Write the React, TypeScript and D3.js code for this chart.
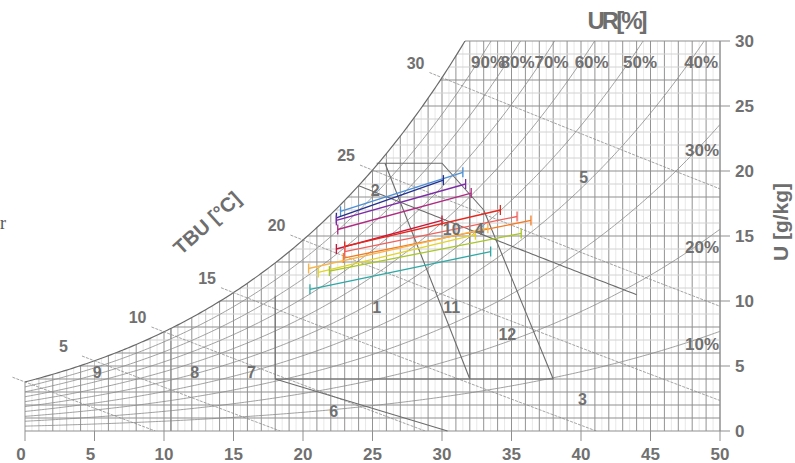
import React from "react";
import * as d3 from "d3";

// axes
const tempTicks = [0, 5, 10, 15, 20, 25, 30, 35, 40, 45, 50];
const humidityTicks = [0, 5, 10, 15, 20, 25, 30];

// psychrometric families
const rhLevels = [0.1, 0.2, 0.3, 0.4, 0.5, 0.6, 0.7, 0.8, 0.9];
const rhTopLabels = [0.9, 0.8, 0.7, 0.6, 0.5, 0.4];
const rhSideLabels = [0.3, 0.2, 0.1];
const wetBulbLevels = [0, 5, 10, 15, 20, 25, 30];
const wetBulbLabels = [5, 10, 15, 20, 25, 30];
const gridMajorU = [0, 1, 2, 3, 4, 5, 6, 8, 10, 13, 15, 18, 20, 25, 27, 30];
const gridMinorU = [7, 9, 11, 12, 14, 16, 17, 19, 21, 22, 23, 24, 26, 28, 29];
const gridExtraT = [10.5];

// monthly lines: (t min, u at t min) -> (t max, u at t max)
const seriesColors = [
  "#4b8fd6", "#23308f", "#7d2aa6", "#b02a83", "#c8173a", "#e8261c",
  "#f0605a", "#f47a20", "#f8b448", "#e3d42a", "#a9c62a", "#2fa9a6",
];
const tLow = [22.7, 22.4, 22.4, 22.5, 22.4, 23.0, 23.0, 22.9, 20.4, 21.1, 21.9, 20.5];
const uLow = [16.9, 16.4, 16.2, 15.5, 14.0, 14.2, 13.8, 13.3, 12.5, 12.2, 12.3, 10.9];
const tHigh = [31.5, 30.1, 31.7, 32.1, 30.0, 34.2, 35.4, 36.4, 33.3, 32.4, 35.7, 33.5];
const uHigh = [19.9, 19.3, 19.0, 18.3, 16.2, 17.0, 16.5, 16.2, 15.6, 15.1, 15.2, 13.8];

// bioclimatic zones
const zoneNames = ["1", "2", "3", "4", "5", "6", "7", "8", "9", "10", "11", "12"];
const zoneLabelT = [25.3, 25.2, 40.1, 32.7, 40.2, 22.2, 16.3, 12.2, 5.2, 30.7, 30.7, 34.7];
const zoneLabelU = [9.5, 18.5, 2.4, 15.5, 19.5, 1.5, 4.5, 4.5, 4.5, 15.5, 9.5, 7.4];
const zoneLines: [number, number][][] = [
  [[18, 4], [18, 10.4]],
  [[18, 4], [38, 4]],
  [[32, 4], [32, 18.2]],
  [[38, 4], [33, 17]],
  [[25.3, 20.6], [30, 20.6], [33, 17]],
  [[25.9, 20.6], [32, 4]],
  [[18, 4], [30.4, 0]],
];
const zoneWetBulb = 24;
const zoneWetBulbEnd = 44;

const P = 101.325;
const pws = (t: number) => 0.61078 * Math.exp((17.27 * t) / (t + 237.3));
const humidity = (t: number, rh: number) => {
  const pw = rh * pws(t);
  return (622 * pw) / (P - pw);
};
const wetBulbU = (t: number, twb: number) => {
  const ws = humidity(twb, 1) / 1000;
  return (1000 * ((2501 - 2.326 * twb) * ws - 1.006 * (t - twb))) / (2501 + 1.86 * t - 4.186 * twb);
};
const wetBulbEnd = (twb: number) => {
  const ws = humidity(twb, 1) / 1000;
  return Math.min(50, twb + ((2501 - 2.326 * twb) * ws) / 1.006);
};
const solveT = (f: (t: number) => number, target: number) => {
  let lo = -20, hi = 80;
  for (let i = 0; i < 60; i++) {
    const mid = (lo + hi) / 2;
    if (f(mid) < target) lo = mid; else hi = mid;
  }
  return (lo + hi) / 2;
};
const satTemp = (u: number) => Math.max(0, solveT((t) => humidity(t, 1), u));

const x = d3.scaleLinear().domain([0, 50]).range([25, 720]);
const y = d3.scaleLinear().domain([0, 30]).range([431, 41]);

const grey = "#6e6e6e";
const font = "'Liberation Sans', Arial, sans-serif";

export default function App() {
  const samples = d3.range(0, 50.001, 0.2);
  const curve = (rh: number) =>
    d3.line<number>().x((t) => x(t)).y((t) => y(humidity(t, rh)))(samples) || "";

  const vertical = d3.range(0, 50.01, 0.5).concat(gridExtraT);
  const vStyle = (t: number) => {
    if (gridExtraT.includes(t)) return { s: "#8c8c8c", w: 1 };
    if (t % 1 !== 0) return { s: "#e8e8e8", w: 1 };
    if (t < 14 && t % 2 === 1) return { s: "#c4c4c4", w: 1 };
    return { s: "#939393", w: 1 };
  };

  const wbLine = (twb: number, t0: number, t1: number) =>
    d3.line<number>().x((t) => x(t)).y((t) => y(wetBulbU(t, twb)))(d3.range(t0, t1, 0.25).concat([t1])) || "";

  const zoneLine = d3.line<[number, number]>().x((d) => x(d[0])).y((d) => y(d[1]));

  return (
    <svg width={795} height={463} style={{ position: "absolute", left: 0, top: 0, background: "#fff" }} fontFamily={font}>
      <defs>
        <clipPath id="plot">
          <rect x={x(0)} y={y(30)} width={x(50) - x(0)} height={y(0) - y(30)} />
        </clipPath>
        <clipPath id="plotwide">
          <rect x={0} y={y(30)} width={x(50)} height={y(0) - y(30)} />
        </clipPath>
      </defs>

      {/* grid */}
      <g>
        {vertical.map((t, i) => {
          const st = vStyle(t);
          return (
            <line key={"v" + i} x1={x(t)} x2={x(t)} y1={y(0)} y2={y(Math.min(30, humidity(t, 1)))} stroke={st.s} strokeWidth={st.w} />
          );
        })}
        {gridMinorU.map((u) => (
          <line key={"hm" + u} x1={x(satTemp(u))} x2={x(50)} y1={y(u)} y2={y(u)} stroke="#d2d2d2" strokeWidth={1} />
        ))}
        {gridMajorU.map((u) => (
          <line key={"h" + u} x1={x(satTemp(u))} x2={x(50)} y1={y(u)} y2={y(u)} stroke="#8f8f8f" strokeWidth={1} />
        ))}
      </g>

      {/* relative humidity curves */}
      <g clipPath="url(#plot)" fill="none">
        {rhLevels.map((rh) => (
          <path key={rh} d={curve(rh)} stroke="#8a8a8a" strokeWidth={0.8} />
        ))}
        <path d={curve(1)} stroke="#6a6a6a" strokeWidth={1.2} />
      </g>

      {/* wet bulb lines */}
      <g clipPath="url(#plotwide)" fill="none">
        {wetBulbLevels.map((twb) => (
          <path key={twb} d={wbLine(twb, twb - 0.9, wetBulbEnd(twb))} stroke="#8a8a8a" strokeWidth={0.8} strokeDasharray="3,1.2" />
        ))}
      </g>
      {wetBulbLabels.map((twb) => (
        <text key={twb} x={x(twb - 0.9) - (twb < 10 ? 14 : 5)} y={y(wetBulbU(twb - 0.9, twb)) - 4} textAnchor="end" fontSize={16} fontWeight="bold" fill="#707070">
          {twb}
        </text>
      ))}

      {/* zone boundaries */}
      <g fill="none" stroke="#6c6c6c" strokeWidth={1.1}>
        {zoneLines.map((pts, i) => (
          <path key={i} d={zoneLine(pts) || ""} />
        ))}
        <path d={wbLine(zoneWetBulb, zoneWetBulb, zoneWetBulbEnd)} />
      </g>

      {/* monthly data */}
      {seriesColors.map((c, i) => (
        <g key={i} stroke={c} strokeWidth={1.3}>
          <line x1={x(tLow[i])} y1={y(uLow[i])} x2={x(tHigh[i])} y2={y(uHigh[i])} />
          <line x1={x(tLow[i])} x2={x(tLow[i])} y1={y(uLow[i]) - 5} y2={y(uLow[i]) + 5} />
          <line x1={x(tHigh[i])} x2={x(tHigh[i])} y1={y(uHigh[i]) - 5} y2={y(uHigh[i]) + 5} />
        </g>
      ))}

      {/* zone labels */}
      {zoneNames.map((n, i) => (
        <text key={n} x={x(zoneLabelT[i])} y={y(zoneLabelU[i])} textAnchor="middle" dominantBaseline="central" fontSize={16} fontWeight="bold" fill="#707070">
          {n}
        </text>
      ))}

      {/* RH labels */}
      {rhTopLabels.map((rh) => (
        <text key={rh} x={x(solveT((t) => humidity(t, rh), 30)) - 3} y={68} textAnchor="middle" fontSize={17} fontWeight="bold" fill="#707070">
          {Math.round(rh * 100)}%
        </text>
      ))}
      {rhSideLabels.map((rh) => (
        <text key={rh} x={x(50) - 1} y={y(humidity(50, rh)) + (rh > 0.25 ? 32 : rh > 0.15 ? 24 : 19)} textAnchor="end" fontSize={17} fontWeight="bold" fill="#707070">
          {Math.round(rh * 100)}%
        </text>
      ))}

      {/* axes */}
      <line x1={x(50)} x2={x(50)} y1={y(0)} y2={y(30)} stroke="#8f8f8f" />
      {tempTicks.map((t) => (
        <g key={"xt" + t}>
          <line x1={x(t)} x2={x(t)} y1={y(0)} y2={y(0) + 10} stroke="#8f8f8f" />
          <text x={x(t) - (t < 10 ? 4 : 0)} y={460} textAnchor="middle" fontSize={17} fontWeight="bold" fill="#707070">{t}</text>
        </g>
      ))}
      {humidityTicks.map((u) => (
        <g key={"yt" + u}>
          <line x1={x(50)} x2={x(50) + 10} y1={y(u)} y2={y(u)} stroke="#8f8f8f" />
          <text x={735} y={y(u)} dy="0.36em" fontSize={17} fontWeight="bold" fill="#707070">{u}</text>
        </g>
      ))}

      {/* titles */}
      <text x={616} y={29} textAnchor="middle" fontSize={24} fontWeight="bold" letterSpacing={-3} fill={grey}>UR[%]</text>
      <text transform="translate(780,222) rotate(-90)" textAnchor="middle" dominantBaseline="central" fontSize={21} fontWeight="bold" fill={grey}>U [g/kg]</text>
      <text transform="translate(207,223) rotate(-42)" textAnchor="middle" dominantBaseline="central" fontSize={20} fontWeight="bold" fill={grey}>TBU [°C]</text>
      <text x={0} y={229} fontFamily="serif" fontSize={18} fill="#555">r</text>
    </svg>
  );
}
